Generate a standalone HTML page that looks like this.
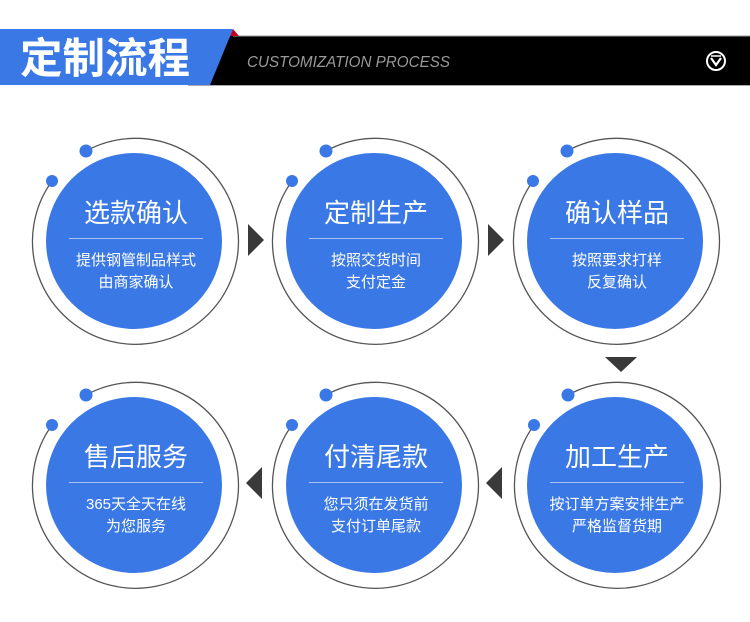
<!DOCTYPE html>
<html><head><meta charset="utf-8"><style>
body{margin:0;width:750px;height:622px;background:#fff;overflow:hidden;font-family:"Liberation Sans","Noto Sans CJK SC",sans-serif}
svg{position:absolute;left:0;top:0}
</style></head><body>
<svg width="750" height="622" viewBox="0 0 750 622" xmlns="http://www.w3.org/2000/svg" font-family="Liberation Sans, Noto Sans CJK SC, sans-serif">
<rect x="0" y="0" width="750" height="622" fill="#fff"/>
<!-- header -->
<polygon points="210,36 750,36 750,85 188,85" fill="#000"/>
<line x1="233" y1="36" x2="750" y2="36" stroke="#999" stroke-width="1"/>
<line x1="188" y1="85.5" x2="750" y2="85.5" stroke="#aaa" stroke-width="1"/>
<polygon points="233,29 239,36 230,36" fill="#c0001a"/>
<polygon points="0,29 233,29 210,85 0,85" fill="#3a78e6"/>
<text x="20" y="73" font-size="42" font-weight="bold" fill="#fff" textLength="170" lengthAdjust="spacingAndGlyphs">定制流程</text>
<text x="247" y="67" font-size="16" font-style="italic" fill="#9a9a9a" textLength="203" lengthAdjust="spacingAndGlyphs">CUSTOMIZATION PROCESS</text>
<circle cx="716" cy="61" r="9" fill="none" stroke="#fff" stroke-width="2"/>
<polyline points="711,58 716,65 721,58" fill="none" stroke="#fff" stroke-width="2.2"/>
<line x1="711" y1="56" x2="721" y2="56" stroke="#fff" stroke-width="1.5"/>

<g id="c">
</g>
<!-- circles -->
<g fill="none" stroke="#555" stroke-width="1.3">
<path d="M 52,181 A 103 103 0 1 0 86,151"/>
<path d="M 292,181 A 103 103 0 1 0 326,151"/>
<path d="M 533,181 A 103 103 0 1 0 567,151"/>
<path d="M 52,425 A 103 103 0 1 0 86,395"/>
<path d="M 292,425 A 103 103 0 1 0 326,395"/>
<path d="M 534,425 A 103 103 0 1 0 568,395"/>
</g>
<g fill="#3a78e6">
<circle cx="134" cy="241" r="88"/><circle cx="86" cy="151" r="6.5"/><circle cx="52" cy="181" r="6"/>
<circle cx="374" cy="241" r="88"/><circle cx="326" cy="151" r="6.5"/><circle cx="292" cy="181" r="6"/>
<circle cx="615" cy="241" r="88"/><circle cx="567" cy="151" r="6.5"/><circle cx="533" cy="181" r="6"/>
<circle cx="134" cy="485" r="88"/><circle cx="86" cy="395" r="6.5"/><circle cx="52" cy="425" r="6"/>
<circle cx="374" cy="485" r="88"/><circle cx="326" cy="395" r="6.5"/><circle cx="292" cy="425" r="6"/>
<circle cx="615" cy="485" r="88"/><circle cx="568" cy="395" r="6.5"/><circle cx="534" cy="425" r="6"/>
</g>
<g stroke="#a9c4f2" stroke-width="1">
<line x1="69" y1="238.5" x2="203" y2="238.5"/><line x1="309" y1="238.5" x2="443" y2="238.5"/><line x1="550" y1="238.5" x2="684" y2="238.5"/>
<line x1="69" y1="482.5" x2="203" y2="482.5"/><line x1="309" y1="482.5" x2="443" y2="482.5"/><line x1="550" y1="482.5" x2="684" y2="482.5"/>
</g>
<g fill="#fff" text-anchor="middle">
<g font-size="26">
<text x="136" y="222">选款确认</text><text x="376" y="222">定制生产</text><text x="617" y="222">确认样品</text>
<text x="136" y="466">售后服务</text><text x="376" y="466">付清尾款</text><text x="617" y="466">加工生产</text>
</g>
<g font-size="15">
<text x="136" y="265">提供钢管制品样式</text><text x="136" y="287">由商家确认</text>
<text x="376" y="265">按照交货时间</text><text x="376" y="287">支付定金</text>
<text x="617" y="265">按照要求打样</text><text x="617" y="287">反复确认</text>
<text x="136" y="509">365天全天在线</text><text x="136" y="531">为您服务</text>
<text x="376" y="509">您只须在发货前</text><text x="376" y="531">支付订单尾款</text>
<text x="617" y="509">按订单方案安排生产</text><text x="617" y="531">严格监督货期</text>
</g>
</g>
<!-- arrows -->
<g fill="#3a3a3a">
<polygon points="248,224 264,240 248,256"/>
<polygon points="488,224 504,240 488,256"/>
<polygon points="605,357 637,357 621,372"/>
<polygon points="502,467 486,483 502,499"/>
<polygon points="262,467 246,483 262,499"/>
</g>
</svg>
</body></html>
